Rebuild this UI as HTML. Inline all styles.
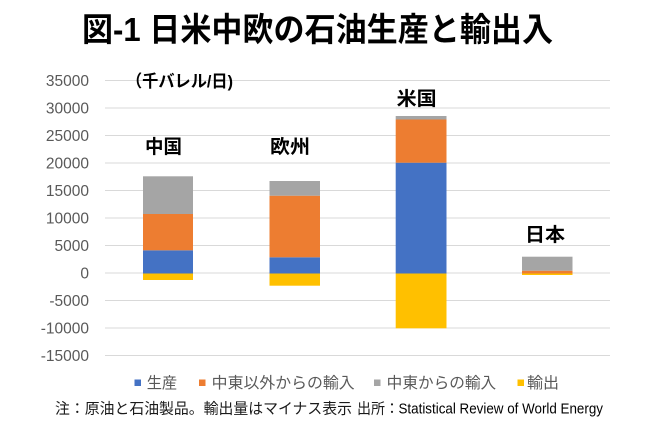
<!DOCTYPE html>
<html><head><meta charset="utf-8"><style>
html,body{margin:0;padding:0;background:#fff;}
svg{display:block;}
.cjk{font-family:"Liberation Sans","Noto Sans CJK JP",sans-serif;}
</style></head><body>
<svg width="650" height="433" viewBox="0 0 650 433" xmlns="http://www.w3.org/2000/svg">
<rect width="650" height="433" fill="#fff"/>
<text x="82" y="41" class="cjk" font-size="33" font-weight="700" fill="#000" textLength="471" lengthAdjust="spacingAndGlyphs">図-1 日米中欧の石油生産と輸出入</text>
<g stroke="#D9D9D9" stroke-width="1">
<line x1="105" y1="80.5" x2="610" y2="80.5"/>
<line x1="105" y1="108" x2="610" y2="108"/>
<line x1="105" y1="135.5" x2="610" y2="135.5"/>
<line x1="105" y1="163" x2="610" y2="163"/>
<line x1="105" y1="190.5" x2="610" y2="190.5"/>
<line x1="105" y1="218" x2="610" y2="218"/>
<line x1="105" y1="245.5" x2="610" y2="245.5"/>
<line x1="105" y1="273" x2="610" y2="273"/>
<line x1="105" y1="300.5" x2="610" y2="300.5"/>
<line x1="105" y1="328" x2="610" y2="328"/>
<line x1="105" y1="355.5" x2="610" y2="355.5"/>
</g>
<g font-family="Liberation Sans, sans-serif" font-size="15.5" fill="#595959" text-anchor="end">
<text x="89" y="86">35000</text>
<text x="89" y="113.5">30000</text>
<text x="89" y="141">25000</text>
<text x="89" y="168.5">20000</text>
<text x="89" y="196">15000</text>
<text x="89" y="223.5">10000</text>
<text x="89" y="251">5000</text>
<text x="89" y="278.5">0</text>
<text x="89" y="306">-5000</text>
<text x="89" y="333.5">-10000</text>
<text x="89" y="361">-15000</text>
</g>
<text x="126" y="87" class="cjk" font-size="17" font-weight="700" fill="#000" textLength="107" lengthAdjust="spacingAndGlyphs">（千バレル/日)</text>
<!-- China -->
<rect x="143" y="273.5" width="50" height="6.5" fill="#FFC000"/>
<rect x="143" y="250.3" width="50" height="23.2" fill="#4472C4"/>
<rect x="143" y="214" width="50" height="36.3" fill="#ED7D31"/>
<rect x="143" y="176.3" width="50" height="37.7" fill="#A5A5A5"/>
<!-- Europe -->
<rect x="269.5" y="273.5" width="50.5" height="12.2" fill="#FFC000"/>
<rect x="269.5" y="257.3" width="50.5" height="16.2" fill="#4472C4"/>
<rect x="269.5" y="195.7" width="50.5" height="61.6" fill="#ED7D31"/>
<rect x="269.5" y="181" width="50.5" height="14.7" fill="#A5A5A5"/>
<!-- US -->
<rect x="395.7" y="273.5" width="50.8" height="54.8" fill="#FFC000"/>
<rect x="395.7" y="162.7" width="50.8" height="110.8" fill="#4472C4"/>
<rect x="395.7" y="119.5" width="50.8" height="43.2" fill="#ED7D31"/>
<rect x="395.7" y="116" width="50.8" height="3.5" fill="#A5A5A5"/>
<!-- Japan -->
<rect x="522" y="273.5" width="50.5" height="1.5" fill="#FFC000"/>
<rect x="522" y="270.7" width="50.5" height="2.8" fill="#ED7D31"/>
<rect x="522" y="256.7" width="50.5" height="14" fill="#A5A5A5"/>
<g class="cjk" font-size="19" font-weight="700" fill="#000">
<text x="145" y="153" textLength="37" lengthAdjust="spacingAndGlyphs">中国</text>
<text x="270" y="153" textLength="40" lengthAdjust="spacingAndGlyphs">欧州</text>
<text x="396.7" y="105.2" textLength="40" lengthAdjust="spacingAndGlyphs">米国</text>
<text x="525" y="241.2" textLength="40" lengthAdjust="spacingAndGlyphs">日本</text>
</g>
<!-- legend -->
<rect x="134.5" y="379.5" width="6.5" height="6.5" fill="#4472C4"/>
<rect x="199" y="379.5" width="6.5" height="6.5" fill="#ED7D31"/>
<rect x="374" y="379.5" width="6.5" height="6.5" fill="#A5A5A5"/>
<rect x="517.5" y="379.5" width="6.5" height="6.5" fill="#FFC000"/>
<g class="cjk" font-size="15.5" fill="#595959">
<text x="146.7" y="388" textLength="30.5" lengthAdjust="spacingAndGlyphs">生産</text>
<text x="211.7" y="388" textLength="143" lengthAdjust="spacingAndGlyphs">中東以外からの輸入</text>
<text x="386.7" y="388" textLength="109.5" lengthAdjust="spacingAndGlyphs">中東からの輸入</text>
<text x="527" y="388" textLength="32" lengthAdjust="spacingAndGlyphs">輸出</text>
</g>
<!-- footnote -->
<g class="cjk" font-size="15" fill="#1a1a1a">
<text x="55" y="413.5" textLength="297" lengthAdjust="spacingAndGlyphs">注：原油と石油製品。輸出量はマイナス表示</text>
<text x="357" y="413.5" textLength="42" lengthAdjust="spacingAndGlyphs">出所：</text>
<text x="398.5" y="413.5" textLength="204.5" lengthAdjust="spacingAndGlyphs" fill="#000">Statistical Review of World Energy</text>
</g>
</svg>
</body></html>
